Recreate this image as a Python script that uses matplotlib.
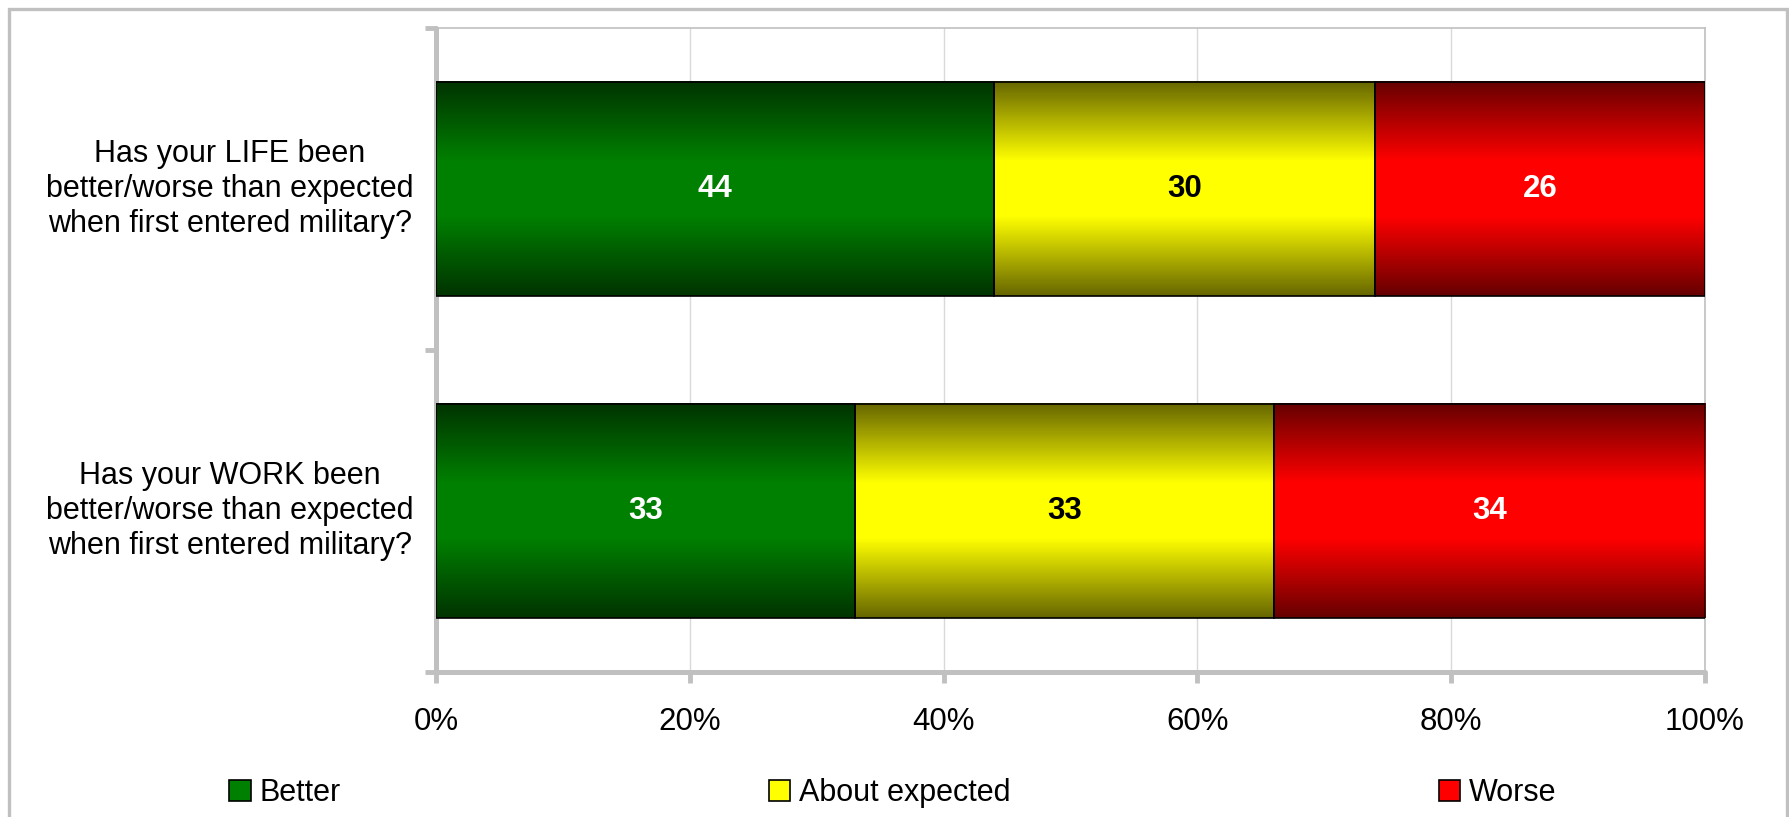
import numpy as np
import matplotlib
matplotlib.use("Agg")
import matplotlib.pyplot as plt
from matplotlib.patches import Rectangle, Patch

# data
questions = [
    "Has your LIFE been\nbetter/worse than expected\nwhen first entered military?",
    "Has your WORK been\nbetter/worse than expected\nwhen first entered military?",
]
series_names = ["Better", "About expected", "Worse"]
better = [44, 33]
about_expected = [30, 33]
worse = [26, 34]
x_ticks = [0, 20, 40, 60, 80, 100]
x_tick_labels = ["0%", "20%", "40%", "60%", "80%", "100%"]

bright = ["#008000", "#ffff00", "#ff0000"]
text_colors = ["white", "black", "white"]
GRID = "#c0c0c0"

plt.rcParams["font.family"] = ["Liberation Sans", "DejaVu Sans"]

W, H = 1789, 817
fig = plt.figure(figsize=(W / 100, H / 100), dpi=100)
ax = fig.add_axes([436 / W, 1 - 672 / H, (1705 - 436) / W, (672 - 28) / H])


def gradient_img(hex_color, n=200):
    rgb = np.array(matplotlib.colors.to_rgb(hex_color))
    t = np.linspace(0, 1, n)
    f = np.clip((1 - np.abs(2 * t - 1)) * 1.35, 0, 1)
    shade = 0.4 + 0.6 * f
    return (shade[:, None] * rgb[None, :])[:, None, :]


y = np.arange(len(questions))
left = np.zeros(len(questions))
for vals, col, tcol in zip([better, about_expected, worse], bright, text_colors):
    bars = ax.barh(y, vals, left=left, height=0.665, facecolor="none",
                   edgecolor="black", linewidth=1.2, zorder=4)
    for b, v in zip(bars, vals):
        x0, y0 = b.get_x(), b.get_y()
        ax.imshow(gradient_img(col), extent=(x0, x0 + b.get_width(), y0 + b.get_height(), y0),
                  aspect="auto", zorder=3, interpolation="bilinear")
        ax.text(x0 + b.get_width() / 2, y0 + b.get_height() / 2, str(v),
                ha="center", va="center", fontsize=22.5, fontweight="bold",
                color=tcol, zorder=5)
    left = left + np.array(vals)

ax.set_xlim(0, 100)
ax.set_ylim(1.5, -0.5)

ax.set_xticks(x_ticks)
ax.set_xticklabels(x_tick_labels, fontsize=22.5)
ax.tick_params(axis="x", length=8, width=3.5, color=GRID, pad=17, direction="out")
ax.xaxis.grid(True, color="#d9d9d9", linewidth=1.0, zorder=0)
ax.set_axisbelow(True)

ax.set_yticks(y)
ax.set_yticklabels(questions, fontsize=22, multialignment="center",
                   linespacing=1.22, va="center")
ax.tick_params(axis="y", which="major", length=0, pad=16)
ax.set_yticks([-0.5, 0.5, 1.5], minor=True)
ax.tick_params(axis="y", which="minor", length=8, width=3.5, color=GRID, direction="out")

for side in ["left", "bottom"]:
    ax.spines[side].set_color(GRID)
    ax.spines[side].set_linewidth(3.6)
    ax.spines[side].set_capstyle("round")
for side in ["top", "right"]:
    ax.spines[side].set_color(GRID)
    ax.spines[side].set_linewidth(1.2)

# outer frame
fig.add_artist(Rectangle((9 / W, -0.05), (1787 - 9) / W, 1.05 - 9 / H,
                         transform=fig.transFigure, fill=False,
                         edgecolor=GRID, linewidth=2.4))

handles = [Patch(facecolor=c, edgecolor="black", linewidth=1.2) for c in bright]
fig.legend(handles, series_names, loc="center", bbox_to_anchor=(893 / W, 1 - 793 / H),
           ncol=3, frameon=False, fontsize=22, handlelength=0.7, handleheight=0.7,
           handletextpad=0.3, columnspacing=14.0)

fig.savefig("out.png", dpi=100)
